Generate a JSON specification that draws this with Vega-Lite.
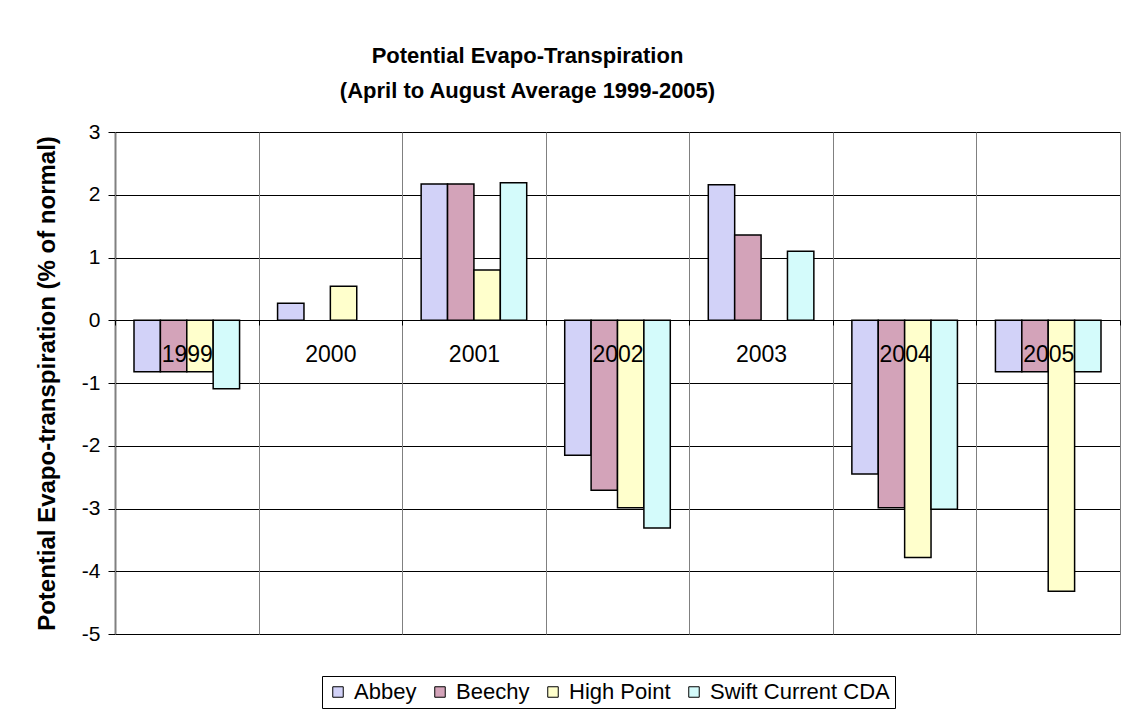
{
  "$schema": "https://vega.github.io/schema/vega-lite/v6.json",
  "width": 1005,
  "height": 502,
  "autosize": {"type": "none"},
  "padding": {"left": 115, "top": 132, "right": 11, "bottom": 89},
  "background": "white",
  "title": {
    "text": ["Potential Evapo-Transpiration", "(April to August Average 1999-2005)"],
    "font": "Liberation Sans",
    "fontSize": 22,
    "fontWeight": "bold",
    "lineHeight": 35,
    "anchor": "middle",
    "dx": -90,
    "offset": 18,
    "color": "black"
  },
  "data": {
    "values": [
      {"year": "1999", "station": "Abbey", "value": -0.82},
      {"year": "1999", "station": "Beechy", "value": -0.82},
      {"year": "1999", "station": "High Point", "value": -0.82},
      {"year": "1999", "station": "Swift Current CDA", "value": -1.09},
      {"year": "2000", "station": "Abbey", "value": 0.27},
      {"year": "2000", "station": "High Point", "value": 0.54},
      {"year": "2001", "station": "Abbey", "value": 2.17},
      {"year": "2001", "station": "Beechy", "value": 2.17},
      {"year": "2001", "station": "High Point", "value": 0.8},
      {"year": "2001", "station": "Swift Current CDA", "value": 2.19},
      {"year": "2002", "station": "Abbey", "value": -2.15},
      {"year": "2002", "station": "Beechy", "value": -2.71},
      {"year": "2002", "station": "High Point", "value": -2.99},
      {"year": "2002", "station": "Swift Current CDA", "value": -3.31},
      {"year": "2003", "station": "Abbey", "value": 2.16},
      {"year": "2003", "station": "Beechy", "value": 1.36},
      {"year": "2003", "station": "Swift Current CDA", "value": 1.1},
      {"year": "2004", "station": "Abbey", "value": -2.45},
      {"year": "2004", "station": "Beechy", "value": -2.99},
      {"year": "2004", "station": "High Point", "value": -3.78},
      {"year": "2004", "station": "Swift Current CDA", "value": -3.01},
      {"year": "2005", "station": "Abbey", "value": -0.82},
      {"year": "2005", "station": "Beechy", "value": -0.82},
      {"year": "2005", "station": "High Point", "value": -4.32},
      {"year": "2005", "station": "Swift Current CDA", "value": -0.82}
    ]
  },
  "mark": {"type": "bar", "stroke": "black", "strokeWidth": 1.5, "opacity": 1},
  "encoding": {
    "x": {
      "field": "year",
      "type": "nominal",
      "scale": {"paddingInner": 0, "paddingOuter": 0},
      "axis": {
        "title": null,
        "zindex": 1,
        "labelAngle": 0,
        "offset": -314,
        "tickBand": "extent",
        "tickSize": 5,
        "tickColor": "black",
        "domainColor": "black",
        "labelPadding": 18,
        "labelFont": "Liberation Sans",
        "labelFontSize": 23,
        "labelColor": "black",
        "labelOverlap": false,
        "grid": true,
        "gridColor": "#808080",
        "gridOpacity": 1,
        "gridWidth": 1
      }
    },
    "xOffset": {
      "field": "station",
      "type": "nominal",
      "scale": {"paddingInner": 0, "paddingOuter": 0.72}
    },
    "y": {
      "field": "value",
      "type": "quantitative",
      "scale": {"domain": [-5, 3], "nice": false, "zero": false},
      "axis": {
        "title": "Potential Evapo-transpiration (% of normal)",
        "titleFont": "Liberation Sans",
        "titleFontSize": 24,
        "titleFontWeight": "bold",
        "titleColor": "black",
        "titlePadding": 22,
        "values": [-5, -4, -3, -2, -1, 0, 1, 2, 3],
        "labelExpr": "'' + datum.value",
        "labelFont": "Liberation Sans",
        "labelFontSize": 21,
        "labelColor": "black",
        "labelPadding": 8,
        "tickSize": 7,
        "tickColor": "black",
        "domainColor": "black",
        "domainWidth": 1.5,
        "grid": true,
        "gridColor": "black",
        "gridOpacity": 1,
        "gridWidth": 1
      }
    },
    "fill": {
      "field": "station",
      "type": "nominal",
      "scale": {
        "domain": ["Abbey", "Beechy", "High Point", "Swift Current CDA"],
        "range": ["#d2d2f8", "#d3a3b9", "#ffffcc", "#d4fbfb"]
      },
      "legend": {
        "title": null,
        "orient": "none",
        "legendX": 207,
        "legendY": 544,
        "direction": "horizontal",
        "gridAlign": "none",
        "columnPadding": 12,
        "symbolType": "square",
        "symbolSize": 110,
        "symbolStrokeColor": "black",
        "symbolStrokeWidth": 1,
        "symbolOpacity": 1,
        "labelFont": "Liberation Sans",
        "labelFontSize": 22,
        "labelColor": "black",
        "labelOffset": 5,
        "labelLimit": 400,
        "strokeColor": "black",
        "padding": 5,
        "fillColor": "white"
      }
    }
  },
  "config": {
    "view": {"stroke": "#808080", "strokeWidth": 1}
  }
}
